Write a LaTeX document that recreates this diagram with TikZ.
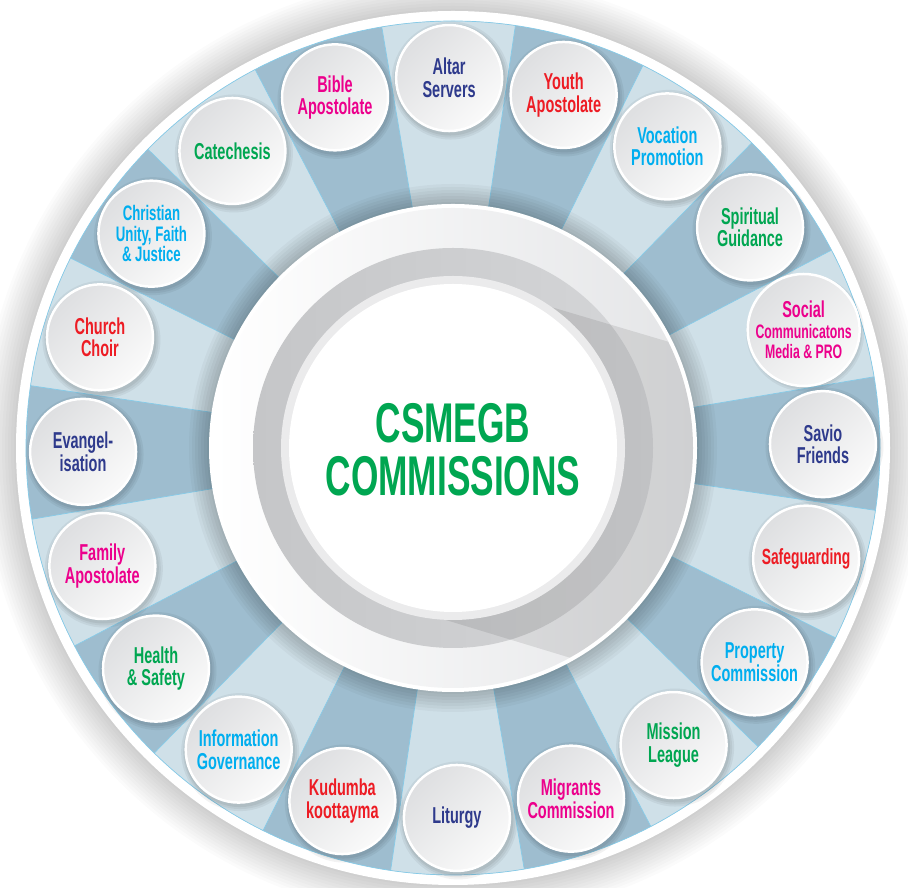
\documentclass[tikz,border=0pt]{standalone}
\usepackage{fontspec}
\newfontfamily\lab{Liberation Sans}[FakeStretch=0.63]
\usetikzlibrary{calc}
\definecolor{cnavy}{HTML}{2E3A8C}
\definecolor{cred}{HTML}{ED1C24}
\definecolor{cmag}{HTML}{EC008C}
\definecolor{ccyan}{HTML}{00AEEF}
\definecolor{cgreen}{HTML}{00A651}
\definecolor{wlight}{HTML}{CFE0E8}
\definecolor{wdark}{HTML}{9EBDCF}
\definecolor{wline}{HTML}{86CBE8}
\definecolor{bubtop}{HTML}{DEDFE1}
\definecolor{bubbot}{HTML}{FAFAFA}
\definecolor{ringl}{HTML}{C5C6C8}
\definecolor{ringm}{HTML}{EFEFF0}
\definecolor{ringr}{HTML}{D5D6D8}
\definecolor{annr}{HTML}{E4E5E7}
\definecolor{innerband}{HTML}{EBEBEC}
\tikzset{
  bubble/.style={circle, minimum size=106pt, inner sep=0pt, draw=white, line width=2.5pt,
    top color=bubtop, bottom color=bubbot, shading angle=45, align=center,
    font=\lab\bfseries\fontsize{23}{22.5}\selectfont},
  spoke/.style={draw=wline, line width=0.7pt},
  title/.style={font=\lab\bfseries\fontsize{56}{53}\selectfont, text=cgreen, align=center}
}
\begin{document}
\begin{tikzpicture}[x=1pt,y=1pt]
\useasboundingbox (0,0) rectangle (908,888);
\fill[white] (0,0) rectangle (908,888);
\coordinate (C) at (453,440);
% outer soft shadow
\foreach \r in {439,442,...,472} \fill[black,opacity=0.016] (C) circle (\r);
\fill[white] (C) circle (437);
% wedges
\fill[wdark] (C) circle (427);
\foreach \i [evaluate=\i as \a using 90.6-18*\i] in {0,2,...,18}
  \fill[wlight] (C) -- ($(C)+(\a-9:427)$) arc[start angle=\a-9, end angle=\a+9, radius=427] -- cycle;
\foreach \i [evaluate=\i as \a using 99.6-18*\i] in {0,...,19}
  \draw[spoke] ($(C)+(\a:240)$) -- ($(C)+(\a:427)$);
\draw[spoke] (C) circle (427);
% shadow around the centre disc
\foreach \r in {246,249,...,264} \fill[black,opacity=0.03] (C) circle (\r);
% centre disc
\fill[white] (C) circle (244);
\shade[left color=white, right color=annr] (C) circle (240);
\shade[left color=ringl, middle color=ringm, right color=ringr] (C) circle (200);
\begin{scope}
  \clip (C) circle (240);
  \fill[black,opacity=0.09] (470,605) -- (740,525) -- (740,200) -- (640,209) -- (380,288) -- (C) -- cycle;
\end{scope}
\fill[innerband] (C) circle (172);
\fill[white] (C) circle (164);
\node[title] (t) at (453,438) {CSMEGB\\COMMISSIONS};
% bubbles
\foreach \i/\t/\c [evaluate=\i as \a using 90.6-18*\i] in {
  0/{Altar\\Servers}/cnavy,
  1/{Youth\\Apostolate}/cred,
  2/{Vocation\\Promotion}/ccyan,
  3/{Spiritual\\Guidance}/cgreen,
  4/{Social\\[-2pt]{\fontsize{19.5}{20}\selectfont Communicatons}\\[-2pt]{\fontsize{19.5}{20}\selectfont Media \& PRO}}/cmag,
  5/{Savio\\Friends}/cnavy,
  6/{{\fontsize{22}{21}\selectfont Safeguarding}}/cred,
  7/{Property\\Commission}/ccyan,
  8/{Mission\\League}/cgreen,
  9/{Migrants\\Commission}/cmag,
  10/{Liturgy}/cnavy,
  11/{Kudumba\\koottayma}/cred,
  12/{Information\\Governance}/ccyan,
  13/{Health\\\& Safety}/cgreen,
  14/{Family\\Apostolate}/cmag,
  15/{Evangel-\\isation}/cnavy,
  16/{Church\\Choir}/cred,
  17/{{\fontsize{21}{20}\selectfont Christian}\\[-2pt]{\fontsize{21}{20}\selectfont Unity, Faith}\\[-2pt]{\fontsize{21}{20}\selectfont \& Justice}}/ccyan,
  18/{Catechesis}/cgreen,
  19/{Bible\\Apostolate}/cmag}
{
  \coordinate (p\i) at ($(C)+(\a:370)$);
  \fill[black,opacity=0.05] ($(p\i)+(1.5,-2.5)$) circle (59);
  \fill[black,opacity=0.05] ($(p\i)+(1.5,-2.5)$) circle (57);
  \fill[black,opacity=0.06] ($(p\i)+(1,-2)$) circle (55.5);
  \node[bubble,text=\c] (c\i) at (p\i) {\t};
}
\end{tikzpicture}
\end{document}
